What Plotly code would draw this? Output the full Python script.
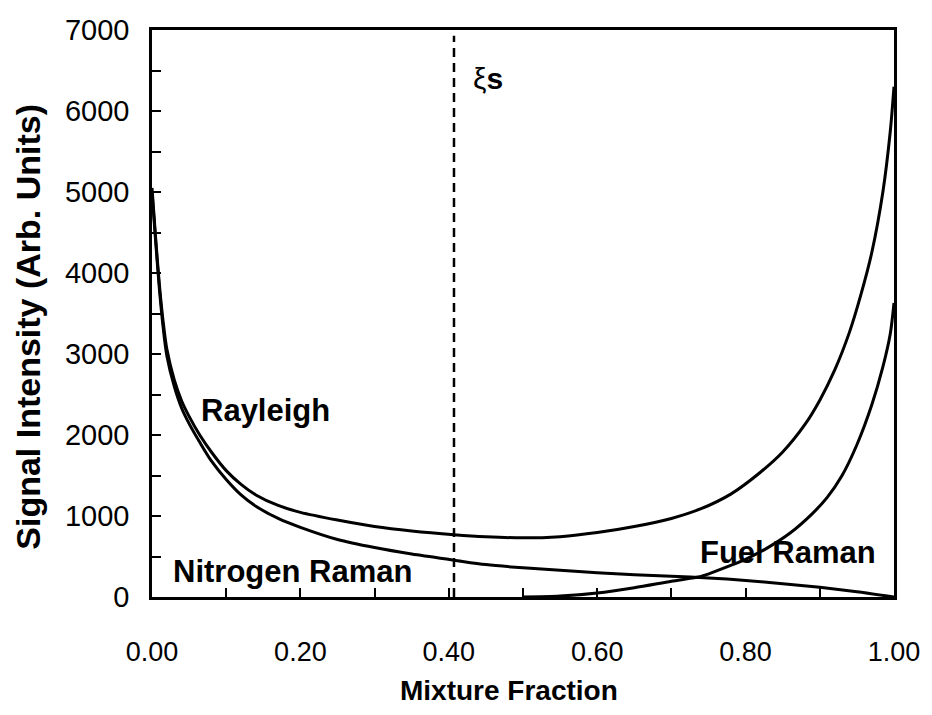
import plotly.graph_objects as go

# Rayleigh signal
ray_x = [0.000, 0.005, 0.010, 0.015, 0.020, 0.030, 0.040, 0.050, 0.065, 0.080, 0.100,
         0.120, 0.140, 0.170, 0.200, 0.250, 0.300, 0.350, 0.407, 0.450, 0.500, 0.550,
         0.600, 0.650, 0.700, 0.740, 0.780, 0.820, 0.850, 0.880, 0.900, 0.920, 0.940,
         0.955, 0.970, 0.985, 0.995, 1.000]
ray_y = [5050, 4420, 3850, 3400, 3060, 2680, 2420, 2230, 1990, 1790, 1560,
         1390, 1260, 1130, 1045, 950, 870, 815, 770, 745, 730, 745,
         795, 870, 970, 1090, 1270, 1540, 1790, 2130, 2430, 2800, 3270,
         3720, 4250, 5000, 5750, 6300]

# Nitrogen Raman signal
n2_x = [0.000, 0.005, 0.010, 0.015, 0.020, 0.030, 0.040, 0.050, 0.065, 0.080, 0.100,
        0.120, 0.140, 0.170, 0.200, 0.250, 0.300, 0.350, 0.407, 0.450, 0.500, 0.550,
        0.600, 0.650, 0.700, 0.750, 0.800, 0.850, 0.900, 0.950, 1.000]
n2_y = [5000, 4380, 3800, 3330, 2980, 2600, 2330, 2140, 1900, 1680, 1450,
        1260, 1120, 970, 860, 710, 610, 530, 455, 400, 360, 330,
        300, 275, 255, 235, 205, 165, 120, 65, 0]

# Fuel Raman signal
fuel_x = [0.50, 0.55, 0.60, 0.65, 0.70, 0.74, 0.76, 0.78, 0.80, 0.83, 0.86, 0.89,
          0.91, 0.93, 0.95, 0.97, 0.985, 0.995, 1.00]
fuel_y = [0, 12, 50, 115, 195, 255, 320, 390, 465, 610, 790, 1030,
          1230, 1500, 1880, 2370, 2840, 3250, 3630]

xi_s = 0.407
x_ticks = [0.0, 0.2, 0.4, 0.6, 0.8, 1.0]
x_tick_text = ["0.00", "0.20", "0.40", "0.60", "0.80", "1.00"]
y_ticks = [0, 1000, 2000, 3000, 4000, 5000, 6000, 7000]

FONT = "Liberation Sans, Arial, Helvetica, sans-serif"
line = dict(color="black", width=3, shape="spline", smoothing=0.8)

fig = go.Figure()
for xs, ys in [(ray_x, ray_y), (n2_x, n2_y), (fuel_x, fuel_y)]:
    fig.add_trace(go.Scatter(x=xs, y=ys, mode="lines", line=line,
                             showlegend=False, hoverinfo="skip"))

fig.add_trace(go.Scatter(x=[xi_s, xi_s], y=[0, 6930], mode="lines",
                         line=dict(color="black", width=2.5, dash="9px,6px"),
                         showlegend=False, hoverinfo="skip"))

lab_font = dict(family=FONT, size=31, color="black")
fig.add_annotation(x=0.064, y=2300, text="<b>Rayleigh</b>", showarrow=False,
                   xanchor="left", yanchor="middle", font=lab_font)
fig.add_annotation(x=0.026, y=310, text="<b>Nitrogen Raman</b>", showarrow=False,
                   xanchor="left", yanchor="middle", font=lab_font)
fig.add_annotation(x=0.736, y=545, text="<b>Fuel Raman</b>", showarrow=False,
                   xanchor="left", yanchor="middle", font=lab_font)
fig.add_annotation(x=0.43, y=6400, text="ξ<b>s</b>", showarrow=False,
                   xanchor="left", yanchor="middle",
                   font=dict(family=FONT, size=30, color="black"))

# axis titles
fig.add_annotation(xref="paper", yref="paper", x=-0.1676, y=0.476,
                   text="<b>Signal Intensity (Arb. Units)</b>", textangle=-90,
                   showarrow=False, xanchor="center", yanchor="middle",
                   font=dict(family=FONT, size=34, color="black"))
fig.add_annotation(xref="paper", yref="paper", x=0.481, y=-0.165,
                   text="<b>Mixture Fraction</b>", showarrow=False,
                   xanchor="center", yanchor="middle",
                   font=dict(family=FONT, size=28, color="black"))

fig.update_xaxes(range=[0, 1], tickvals=x_ticks, ticktext=x_tick_text,
                 minor=dict(dtick=0.1, ticks="inside", ticklen=9, tickwidth=1.5, tickcolor="black"),
                 ticks="inside", ticklen=9, tickwidth=1.5, tickcolor="black",
                 showline=True, linecolor="black", linewidth=2.5, mirror=True,
                 showgrid=False, zeroline=False,
                 tickfont=dict(family=FONT, size=27, color="black"),
                 ticklabelstandoff=29)
fig.update_yaxes(range=[0, 7000], tickvals=y_ticks,
                 minor=dict(dtick=500, ticks="inside", ticklen=9, tickwidth=1.5, tickcolor="black"),
                 ticks="inside", ticklen=9, tickwidth=1.5, tickcolor="black",
                 showline=True, linecolor="black", linewidth=2.5, mirror=True,
                 showgrid=False, zeroline=False,
                 tickfont=dict(family=FONT, size=29, color="black"),
                 ticklabelstandoff=14)

fig.update_layout(width=932, height=715, plot_bgcolor="white", paper_bgcolor="white",
                  margin=dict(l=152, r=34, t=30, b=118))

fig.write_html("out.html")
